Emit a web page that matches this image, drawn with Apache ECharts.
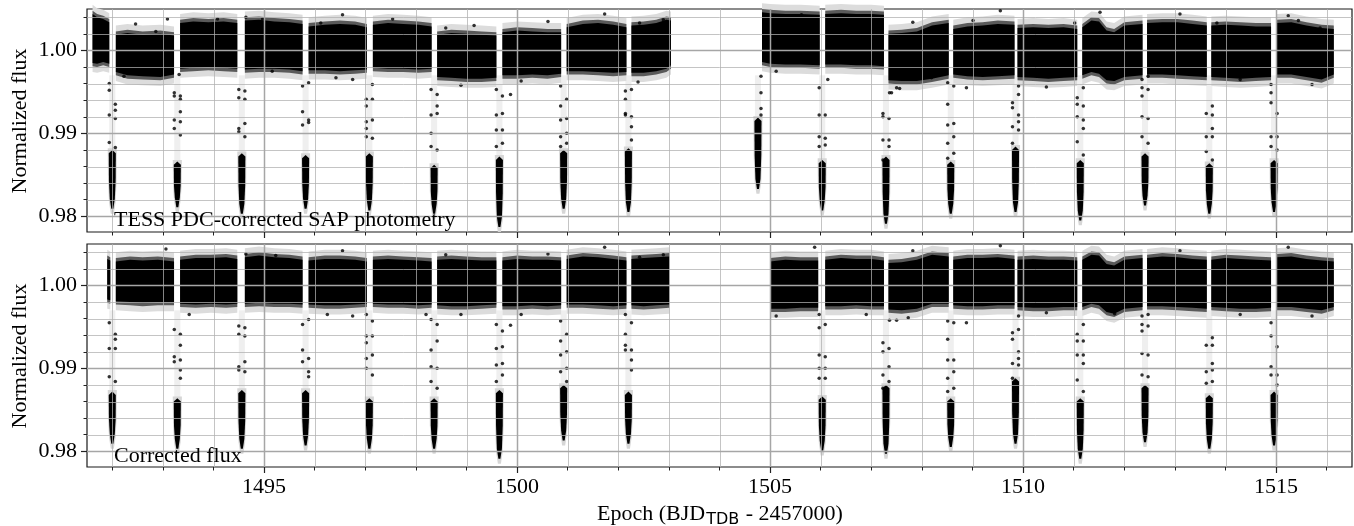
<!DOCTYPE html>
<html><head><meta charset="utf-8">
<script src="https://cdn.jsdelivr.net/npm/echarts@6/dist/echarts.min.js"></script>
<style>html,body{margin:0;padding:0;background:#fff}#c{width:1354px;height:526px}</style>
</head><body><div id="c"></div>
<script>
// ---------------- DATA ----------------
const xMajorTicks = [1495, 1500, 1505, 1510, 1515];
const xMinorTicks = [1492,1493,1494,1495,1496,1497,1498,1499,1500,1501,1502,1503,1504,1505,1506,1507,1508,1509,1510,1511,1512,1513,1514,1515,1516];
const yMajorTicks = [0.98, 0.99, 1.00];
const yMinorTicks = [0.980,0.982,0.984,0.986,0.988,0.990,0.992,0.994,0.996,0.998,1.000,1.002,1.004];

// Out-of-transit flux: each segment = list of [time, upper flux of dense band, lower flux of dense band]
const pdcSegments = [
  [[1491.61,1.0044,0.9985],[1491.70,1.0040,0.9984],[1491.82,1.0038,0.9986],[1491.94,1.0034,0.9984]],
  [[1492.07,1.0019,0.9974],[1492.30,1.0021,0.9970],[1492.60,1.0019,0.9969],[1492.95,1.0020,0.9968],[1493.22,1.0018,0.9971]],
  [[1493.34,1.0033,0.9978],[1493.60,1.0035,0.9979],[1493.90,1.0034,0.9980],[1494.20,1.0035,0.9979],[1494.47,1.0033,0.9978]],
  [[1494.62,1.0036,0.9977],[1494.90,1.0037,0.9978],[1495.20,1.0035,0.9978],[1495.50,1.0034,0.9977],[1495.76,1.0032,0.9975]],
  [[1495.88,1.0029,0.9976],[1496.20,1.0031,0.9976],[1496.50,1.0032,0.9975],[1496.80,1.0031,0.9976],[1497.03,1.0028,0.9977]],
  [[1497.15,1.0031,0.9979],[1497.45,1.0033,0.9978],[1497.75,1.0032,0.9978],[1498.05,1.0031,0.9977],[1498.31,1.0029,0.9978]],
  [[1498.42,1.0019,0.9968],[1498.70,1.0021,0.9967],[1499.00,1.0020,0.9966],[1499.30,1.0019,0.9966],[1499.59,1.0018,0.9967]],
  [[1499.71,1.0022,0.9970],[1500.00,1.0024,0.9970],[1500.30,1.0023,0.9971],[1500.60,1.0022,0.9970],[1500.87,1.0022,0.9972]],
  [[1500.98,1.0028,0.9975],[1501.30,1.0032,0.9975],[1501.60,1.0033,0.9974],[1501.90,1.0031,0.9973],[1502.16,1.0028,0.9974]],
  [[1502.26,1.0030,0.9973],[1502.50,1.0031,0.9973],[1502.75,1.0033,0.9975],[1502.95,1.0037,0.9978],[1503.04,1.0036,0.9982]],
  [[1504.84,1.0046,0.9986],[1505.00,1.0045,0.9984],[1505.30,1.0044,0.9983],[1505.60,1.0044,0.9983],[1505.98,1.0043,0.9982]],
  [[1506.09,1.0044,0.9983],[1506.40,1.0045,0.9983],[1506.70,1.0044,0.9982],[1507.00,1.0044,0.9982],[1507.25,1.0043,0.9981]],
  [[1507.34,1.0020,0.9964],[1507.60,1.0021,0.9963],[1507.90,1.0023,0.9963],[1508.20,1.0030,0.9966],[1508.53,1.0033,0.9970]],
  [[1508.62,1.0026,0.9971],[1508.90,1.0029,0.9969],[1509.20,1.0030,0.9968],[1509.50,1.0032,0.9969],[1509.83,1.0031,0.9970]],
  [[1509.89,1.0027,0.9968],[1510.20,1.0028,0.9967],[1510.50,1.0027,0.9966],[1510.80,1.0028,0.9967],[1511.07,1.0026,0.9968]],
  [[1511.17,1.0028,0.9970],[1511.35,1.0036,0.9974],[1511.50,1.0035,0.9972],[1511.65,1.0024,0.9964],[1511.80,1.0022,0.9963],[1512.00,1.0030,0.9968],[1512.36,1.0032,0.9970]],
  [[1512.45,1.0033,0.9971],[1512.75,1.0034,0.9971],[1513.05,1.0034,0.9970],[1513.35,1.0032,0.9969],[1513.63,1.0030,0.9968]],
  [[1513.72,1.0030,0.9968],[1514.00,1.0031,0.9967],[1514.30,1.0030,0.9966],[1514.60,1.0029,0.9967],[1514.90,1.0029,0.9968]],
  [[1515.01,1.0033,0.9971],[1515.30,1.0034,0.9971],[1515.60,1.0030,0.9968],[1515.90,1.0027,0.9965],[1516.14,1.0026,0.9971]]
];
const corrSegments = [
  [[1491.90,1.0032,0.9983],[1491.96,1.0030,0.9982]],
  [[1492.07,1.0029,0.9981],[1492.35,1.0031,0.9980],[1492.60,1.0030,0.9979],[1492.90,1.0031,0.9980],[1493.22,1.0029,0.9980]],
  [[1493.34,1.0031,0.9978],[1493.65,1.0033,0.9977],[1493.95,1.0033,0.9978],[1494.25,1.0034,0.9977],[1494.47,1.0032,0.9978]],
  [[1494.62,1.0034,0.9978],[1494.90,1.0036,0.9979],[1495.20,1.0034,0.9978],[1495.50,1.0033,0.9978],[1495.76,1.0031,0.9977]],
  [[1495.88,1.0030,0.9977],[1496.20,1.0032,0.9976],[1496.50,1.0032,0.9976],[1496.80,1.0031,0.9977],[1497.03,1.0029,0.9978]],
  [[1497.15,1.0031,0.9978],[1497.45,1.0032,0.9977],[1497.75,1.0031,0.9977],[1498.05,1.0030,0.9976],[1498.31,1.0029,0.9977]],
  [[1498.42,1.0031,0.9976],[1498.70,1.0032,0.9975],[1499.00,1.0031,0.9975],[1499.30,1.0030,0.9976],[1499.59,1.0030,0.9977]],
  [[1499.71,1.0030,0.9975],[1500.00,1.0032,0.9975],[1500.30,1.0031,0.9976],[1500.60,1.0031,0.9975],[1500.87,1.0030,0.9976]],
  [[1500.98,1.0032,0.9977],[1501.30,1.0035,0.9977],[1501.60,1.0034,0.9976],[1501.90,1.0032,0.9975],[1502.16,1.0030,0.9976]],
  [[1502.26,1.0032,0.9976],[1502.50,1.0033,0.9975],[1502.75,1.0034,0.9976],[1503.01,1.0035,0.9977]],
  [[1505.00,1.0029,0.9972],[1505.30,1.0031,0.9972],[1505.60,1.0030,0.9973],[1505.95,1.0030,0.9973]],
  [[1506.09,1.0031,0.9975],[1506.40,1.0033,0.9975],[1506.70,1.0032,0.9976],[1507.00,1.0032,0.9975],[1507.25,1.0030,0.9975]],
  [[1507.34,1.0027,0.9971],[1507.60,1.0028,0.9970],[1507.90,1.0031,0.9972],[1508.20,1.0037,0.9978],[1508.53,1.0035,0.9978]],
  [[1508.62,1.0031,0.9976],[1508.90,1.0033,0.9975],[1509.20,1.0033,0.9975],[1509.50,1.0034,0.9976],[1509.83,1.0032,0.9976]],
  [[1509.89,1.0031,0.9974],[1510.20,1.0032,0.9973],[1510.50,1.0031,0.9973],[1510.80,1.0031,0.9974],[1511.07,1.0030,0.9974]],
  [[1511.17,1.0031,0.9974],[1511.35,1.0037,0.9978],[1511.50,1.0036,0.9976],[1511.65,1.0026,0.9968],[1511.80,1.0024,0.9966],[1512.00,1.0031,0.9972],[1512.36,1.0033,0.9974]],
  [[1512.45,1.0033,0.9975],[1512.75,1.0035,0.9975],[1513.05,1.0034,0.9974],[1513.35,1.0032,0.9973],[1513.63,1.0031,0.9972]],
  [[1513.72,1.0031,0.9974],[1514.00,1.0033,0.9973],[1514.30,1.0032,0.9972],[1514.60,1.0031,0.9972],[1514.90,1.0030,0.9973]],
  [[1515.01,1.0034,0.9974],[1515.30,1.0035,0.9974],[1515.60,1.0032,0.9972],[1515.90,1.0030,0.9970],[1516.14,1.0029,0.9974]]
];

// Transits: [mid-transit time, top of in-transit cluster, lowest point]
const pdcTransits = [
  [1492.00,0.9876,0.9809],[1493.285,0.9862,0.9811],[1494.56,0.9872,0.9803],[1495.82,0.9870,0.9809],
  [1497.08,0.9872,0.9807],[1498.36,0.9858,0.9803],[1499.65,0.9868,0.9787],[1500.92,0.9876,0.9809],
  [1502.20,0.9878,0.9805],[1504.76,0.9915,0.9833],[1506.03,0.9864,0.9807],[1507.29,0.9868,0.9791],
  [1508.57,0.9862,0.9803],[1509.85,0.9880,0.9805],[1511.13,0.9864,0.9795],[1512.41,0.9872,0.9813],
  [1513.68,0.9860,0.9803],[1514.96,0.9864,0.9805]
];
const corrTransits = [
  [1492.00,0.9868,0.9809],[1493.285,0.9860,0.9803],[1494.56,0.9870,0.9803],[1495.82,0.9870,0.9807],
  [1497.08,0.9860,0.9803],[1498.36,0.9860,0.9803],[1499.65,0.9870,0.9791],[1500.92,0.9876,0.9813],
  [1502.20,0.9868,0.9809],[1506.03,0.9862,0.9801],[1507.29,0.9876,0.9797],
  [1508.57,0.9860,0.9805],[1509.85,0.9884,0.9809],[1511.13,0.9860,0.9791],[1512.41,0.9876,0.9811],
  [1513.68,0.9864,0.9803],[1514.96,0.9868,0.9807]
];
// Sparse ingress (before mid-transit) and egress (after) flux points, per transit
const pdcIngress = [
  [0.9960,0.9952,0.9922,0.9889],[0.9949,0.9945,0.9916,0.9906],[0.9953,0.9943,0.9906,0.9902],[0.9957,0.9926,0.9910],
  [0.9941,0.9933,0.9914,0.9906,0.9896],[0.9953,0.9922,0.9900,0.9884],[0.9953,0.9922,0.9904,0.9884],[0.9957,0.9933,0.9916,0.9896,0.9884],
  [0.9951,0.9941,0.9924,0.9922],[],[0.9955,0.9922,0.9896,0.9884],[0.9924,0.9920,0.9892,0.9868],
  [0.9961,0.9935,0.9910,0.9888,0.9870],[0.9937,0.9931,0.9908,0.9888],[0.9943,0.9935,0.9920,0.9890],[0.9965,0.9955,0.9945,0.9920,0.9896],
  [0.9924,0.9896,0.9878],[0.9959,0.9949,0.9937,0.9896,0.9884]
];
const pdcEgress = [
  [0.9935,0.9928,0.9918,0.9883],[0.9945,0.9941,0.9926,0.9914,0.9898],[0.9951,0.9941,0.9912,0.9896],[0.9961,0.9916,0.9913],
  [0.9959,0.9941,0.9916,0.9894],[0.9947,0.9933,0.9924,0.9880],[0.9945,0.9924,0.9904,0.9888],[0.9941,0.9918,0.9900,0.9888],
  [0.9953,0.9920,0.9908,0.9892],[0.9969,0.9949,0.9930,0.9922],[0.9922,0.9894,0.9886],[0.9918,0.9892,0.9884],
  [0.9957,0.9912,0.9896,0.9876],[0.9957,0.9947,0.9922,0.9914,0.9904],[0.9955,0.9933,0.9916,0.9906,0.9874],[0.9969,0.9953,0.9918,0.9888],
  [0.9933,0.9922,0.9906,0.9896,0.9868],[0.9924,0.9896,0.9880]
];
const corrIngress = [
  [0.9955,0.9924,0.9890],[0.9947,0.9914,0.9908],[0.9951,0.9941,0.9902,0.9898],[0.9953,0.9922,0.9908],
  [0.9965,0.9939,0.9931,0.9912,0.9900],[0.9959,0.9922,0.9902,0.9884],[0.9953,0.9924,0.9904,0.9884],[0.9957,0.9933,0.9916,0.9896],
  [0.9965,0.9941,0.9928,0.9922],[0.9965,0.9949,0.9916,0.9900,0.9888],[0.9931,0.9920,0.9892,0.9876],
  [0.9957,0.9935,0.9910,0.9888,0.9872],[0.9943,0.9935,0.9906,0.9888],[0.9941,0.9933,0.9916,0.9886],[0.9963,0.9953,0.9945,0.9918,0.9892],
  [0.9928,0.9896,0.9882],[0.9955,0.9939,0.9902,0.9892]
];
const corrEgress = [
  [0.9941,0.9935,0.9924,0.9884],[0.9941,0.9928,0.9910,0.9898,0.9888],[0.9949,0.9939,0.9908,0.9896],[0.9959,0.9912,0.9896,0.9890],
  [0.9957,0.9939,0.9916,0.9892],[0.9953,0.9933,0.9900,0.9876],[0.9945,0.9926,0.9906,0.9892],[0.9941,0.9920,0.9900,0.9884],
  [0.9955,0.9922,0.9910,0.9898],[0.9953,0.9914,0.9900,0.9888],[0.9924,0.9902,0.9884],
  [0.9955,0.9910,0.9896,0.9876],[0.9963,0.9947,0.9920,0.9912,0.9904],[0.9953,0.9933,0.9916,0.9906,0.9872],[0.9965,0.9951,0.9916,0.9890],
  [0.9937,0.9928,0.9906,0.9898,0.9884],[0.9926,0.9892,0.9880]
];
// Isolated points outside the dense band: [time, flux]
const pdcOutliers = [
  [1492.23,0.9969],[1492.46,1.0032],[1493.09,1.0038],[1492.86,1.0023],[1493.32,0.9971],[1494.08,1.0038],
  [1494.64,1.0040],[1495.16,0.9975],[1494.97,1.0038],[1496.12,1.0033],[1496.42,0.9967],[1496.55,1.0043],
  [1496.75,0.9965],[1497.54,1.0038],[1498.89,0.9958],[1498.59,1.0027],[1499.15,1.0030],[1499.87,0.9947],
  [1500.08,0.9963],[1500.61,1.0035],[1501.73,1.0044],[1502.42,1.0033],[1502.39,0.9962],[1502.89,1.0037],
  [1505.12,0.9975],[1505.62,1.0043],[1506.14,0.9965],[1507.36,0.9949],[1507.50,0.9955],[1507.40,0.9949],
  [1507.56,0.9954],[1507.82,1.0034],[1508.19,0.9967],[1508.88,0.9955],[1509.01,1.0036],[1509.55,1.0048],
  [1510.03,1.0025],[1510.46,0.9956],[1511.02,1.0033],[1511.52,1.0046],[1511.81,0.9966],[1513.10,1.0044],
  [1513.83,1.0033],[1514.29,0.9965],[1515.24,1.0042],[1515.44,1.0036],[1515.71,0.9959],[1515.87,1.0027]
];
const corrOutliers = [
  [1493.06,1.0044],[1493.52,0.9965],[1494.64,1.0038],[1495.23,1.0036],[1496.25,0.9965],[1496.55,1.0042],
  [1496.75,0.9963],[1498.20,0.9965],[1498.89,0.9965],[1498.59,1.0037],[1499.87,0.9952],[1500.08,0.9965],
  [1500.61,1.0038],[1501.73,1.0046],[1502.42,1.0034],[1502.89,1.0037],[1505.12,0.9963],[1505.88,1.0046],
  [1506.90,0.9965],[1507.36,0.9958],[1507.50,0.9958],[1507.73,0.9961],[1507.82,1.0042],[1508.88,0.9955],
  [1509.55,1.0048],[1510.46,0.9967],[1511.81,0.9966],[1513.10,1.0042],[1514.29,0.9965],[1515.24,1.0046],
  [1515.71,0.9963]
];
const panelLabels = ['TESS PDC-corrected SAP photometry', 'Corrected flux'];

// ---------------- CHART ----------------
const SERIF = 'Liberation Serif, Times New Roman, serif';
const chart = echarts.init(document.getElementById('c'), null, {renderer: 'canvas'});

function bandRender(segs) {
  return function (params, api) {
    const s = segs[api.value(2)];
    const layers = [[0.0011, '#dcdcdc'], [0.0004, '#5a5a5a'], [0, '#000']];
    return {
      type: 'group',
      children: layers.map(function (L) {
        const pad = L[0];
        const top = s.map(p => api.coord([p[0], p[1] + pad]));
        const bot = s.slice().reverse().map(p => api.coord([p[0], p[2] - pad]));
        return {type: 'polygon', shape: {points: top.concat(bot)}, style: {fill: L[1]}};
      })
    };
  };
}
function transitRender(list) {
  return function (params, api) {
    const tr = list[api.value(2)];
    const tc = tr[0], top = tr[1], bot = tr[2], mid = (tr[1] + tr[2]) / 2;
    const P = (t, f) => api.coord([t, f]);
    const strip = [P(tc - 0.06, 0.9970), P(tc + 0.06, 0.9970), P(tc + 0.06, top), P(tc - 0.06, top)];
    const halo = [P(tc - 0.09, top + 0.0006), P(tc + 0.09, top + 0.0006), P(tc + 0.085, mid), P(tc + 0.065, bot + 0.0008),
      P(tc + 0.03, bot - 0.0006), P(tc - 0.03, bot - 0.0006), P(tc - 0.065, bot + 0.0008), P(tc - 0.085, mid)];
    const core = [P(tc - 0.07, top), P(tc, top + 0.0004), P(tc + 0.07, top), P(tc + 0.066, mid), P(tc + 0.05, bot + 0.0012),
      P(tc + 0.02, bot), P(tc - 0.02, bot), P(tc - 0.05, bot + 0.0012), P(tc - 0.066, mid)];
    return {type: 'group', children: [
      {type: 'polygon', shape: {points: strip}, style: {fill: '#efefef'}},
      {type: 'polygon', shape: {points: halo}, style: {fill: '#d6d6d6'}},
      {type: 'polygon', shape: {points: core}, style: {fill: '#000'}}
    ]};
  };
}
function gridRender(dir, color, width) {
  return function (params, api) {
    const cs = params.coordSys;
    if (dir === 'v') {
      const x = Math.round(api.coord([api.value(0), 1.0])[0]) + 0.5;
      return {type: 'line', shape: {x1: x, y1: cs.y, x2: x, y2: cs.y + cs.height}, style: {stroke: color, lineWidth: width}};
    }
    const y = Math.round(api.coord([1500, api.value(1)])[1]) + 0.5;
    return {type: 'line', shape: {x1: cs.x, y1: y, x2: cs.x + cs.width, y2: y}, style: {stroke: color, lineWidth: width}};
  };
}
function dotData(transits, ing, egr, outl) {
  const d = [];
  transits.forEach(function (tr, i) {
    (ing[i] || []).forEach(f => d.push([tr[0] - 0.06, f]));
    (egr[i] || []).forEach(f => d.push([tr[0] + 0.06, f]));
  });
  return d.concat(outl);
}

const grids = [], xAxes = [], yAxes = [], series = [];
[0, 1].forEach(function (g) {
  grids.push({left: 87, right: 2, top: g === 0 ? 9 : 244, height: 223, show: true,
    borderColor: '#1a1a1a', borderWidth: 1.2, backgroundColor: '#fff'});
  const xBase = {type: 'value', gridIndex: g, min: 1491.5, max: 1516.5, position: 'bottom', axisLine: {show: false}, splitLine: {show: false}};
  xAxes.push(Object.assign({}, xBase, {
    axisTick: {show: true, customValues: xMinorTicks, length: 3.5, lineStyle: {color: '#222', width: 1}},
    axisLabel: {show: false}}));
  xAxes.push(Object.assign({}, xBase, {
    axisTick: {show: true, customValues: xMajorTicks, length: 6, lineStyle: {color: '#222', width: 1.2}},
    axisLabel: {show: g === 1, customValues: xMajorTicks, fontFamily: SERIF, fontSize: 22, color: '#000', margin: 9,
      formatter: v => String(Math.round(v))}}));
  const yBase = {type: 'value', gridIndex: g, min: 0.9781, max: 1.0050, position: 'left', axisLine: {show: false}, splitLine: {show: false}};
  yAxes.push(Object.assign({}, yBase, {
    axisTick: {show: true, customValues: yMinorTicks, length: 3.5, lineStyle: {color: '#222', width: 1}},
    axisLabel: {show: false}}));
  yAxes.push(Object.assign({}, yBase, {
    axisTick: {show: true, customValues: yMajorTicks, length: 6, lineStyle: {color: '#222', width: 1.2}},
    axisLabel: {show: true, customValues: yMajorTicks, fontFamily: SERIF, fontSize: 22, color: '#000', margin: 10,
      formatter: v => v.toFixed(2)}}));

  const segs = g === 0 ? pdcSegments : corrSegments;
  const trs = g === 0 ? pdcTransits : corrTransits;
  const xi = 2 * g + 1, yi = 2 * g + 1;
  series.push({type: 'custom', xAxisIndex: xi, yAxisIndex: yi, z: 2, silent: true,
    renderItem: transitRender(trs), data: trs.map((t, i) => [t[0], t[1], i])});
  series.push({type: 'custom', xAxisIndex: xi, yAxisIndex: yi, z: 3, silent: true,
    renderItem: bandRender(segs), data: segs.map((s, i) => [s[0][0], s[0][1], i])});
  series.push({type: 'scatter', xAxisIndex: xi, yAxisIndex: yi, z: 4, silent: true,
    symbol: 'circle', symbolSize: 3.5, itemStyle: {color: '#000'},
    data: g === 0 ? dotData(pdcTransits, pdcIngress, pdcEgress, pdcOutliers)
                  : dotData(corrTransits, corrIngress, corrEgress, corrOutliers)});
  // grid lines drawn on top of the data, as in the reference
  series.push({type: 'custom', xAxisIndex: xi, yAxisIndex: yi, z: 20, silent: true, clip: true,
    renderItem: gridRender('v', 'rgba(176,176,176,0.75)', 1), data: xMinorTicks.map(t => [t, 1.0])});
  series.push({type: 'custom', xAxisIndex: xi, yAxisIndex: yi, z: 20, silent: true, clip: true,
    renderItem: gridRender('h', 'rgba(176,176,176,0.75)', 1), data: yMinorTicks.map(f => [1500, f])});
  series.push({type: 'custom', xAxisIndex: xi, yAxisIndex: yi, z: 21, silent: true, clip: true,
    renderItem: gridRender('v', '#a6a6a6', 1.5), data: xMajorTicks.map(t => [t, 1.0])});
  series.push({type: 'custom', xAxisIndex: xi, yAxisIndex: yi, z: 21, silent: true, clip: true,
    renderItem: gridRender('h', '#a6a6a6', 1.5), data: yMajorTicks.map(f => [1500, f])});
});

const graphics = [
  {type: 'text', x: 114, y: 231, z: 100, style: {text: panelLabels[0], font: '22px ' + SERIF, fill: '#000', textVerticalAlign: 'bottom'}},
  {type: 'text', x: 114, y: 467, z: 100, style: {text: panelLabels[1], font: '22px ' + SERIF, fill: '#000', textVerticalAlign: 'bottom'}},
  {type: 'text', x: 20, y: 121, rotation: Math.PI / 2, z: 100, style: {text: 'Normalized flux', font: '22px ' + SERIF, fill: '#000', textAlign: 'center', textVerticalAlign: 'middle'}},
  {type: 'text', x: 20, y: 356, rotation: Math.PI / 2, z: 100, style: {text: 'Normalized flux', font: '22px ' + SERIF, fill: '#000', textAlign: 'center', textVerticalAlign: 'middle'}},
  {type: 'text', x: 720, y: 528, z: 100, style: {
    text: '{m|Epoch (BJD}{s|TDB}{m| - 2457000)}', textAlign: 'center', textVerticalAlign: 'bottom',
    rich: {
      m: {fontFamily: SERIF, fontSize: 22, fill: '#000', color: '#000', verticalAlign: 'bottom', padding: [0, 0, 3, 0]},
      s: {fontFamily: 'DejaVu Sans', fontSize: 16, fill: '#000', color: '#000', verticalAlign: 'bottom', padding: [0, 1, 0, 1]}
    }}}
];

chart.setOption({
  animation: false,
  backgroundColor: '#fff',
  grid: grids, xAxis: xAxes, yAxis: yAxes, series: series, graphic: graphics
});
</script></body></html>
